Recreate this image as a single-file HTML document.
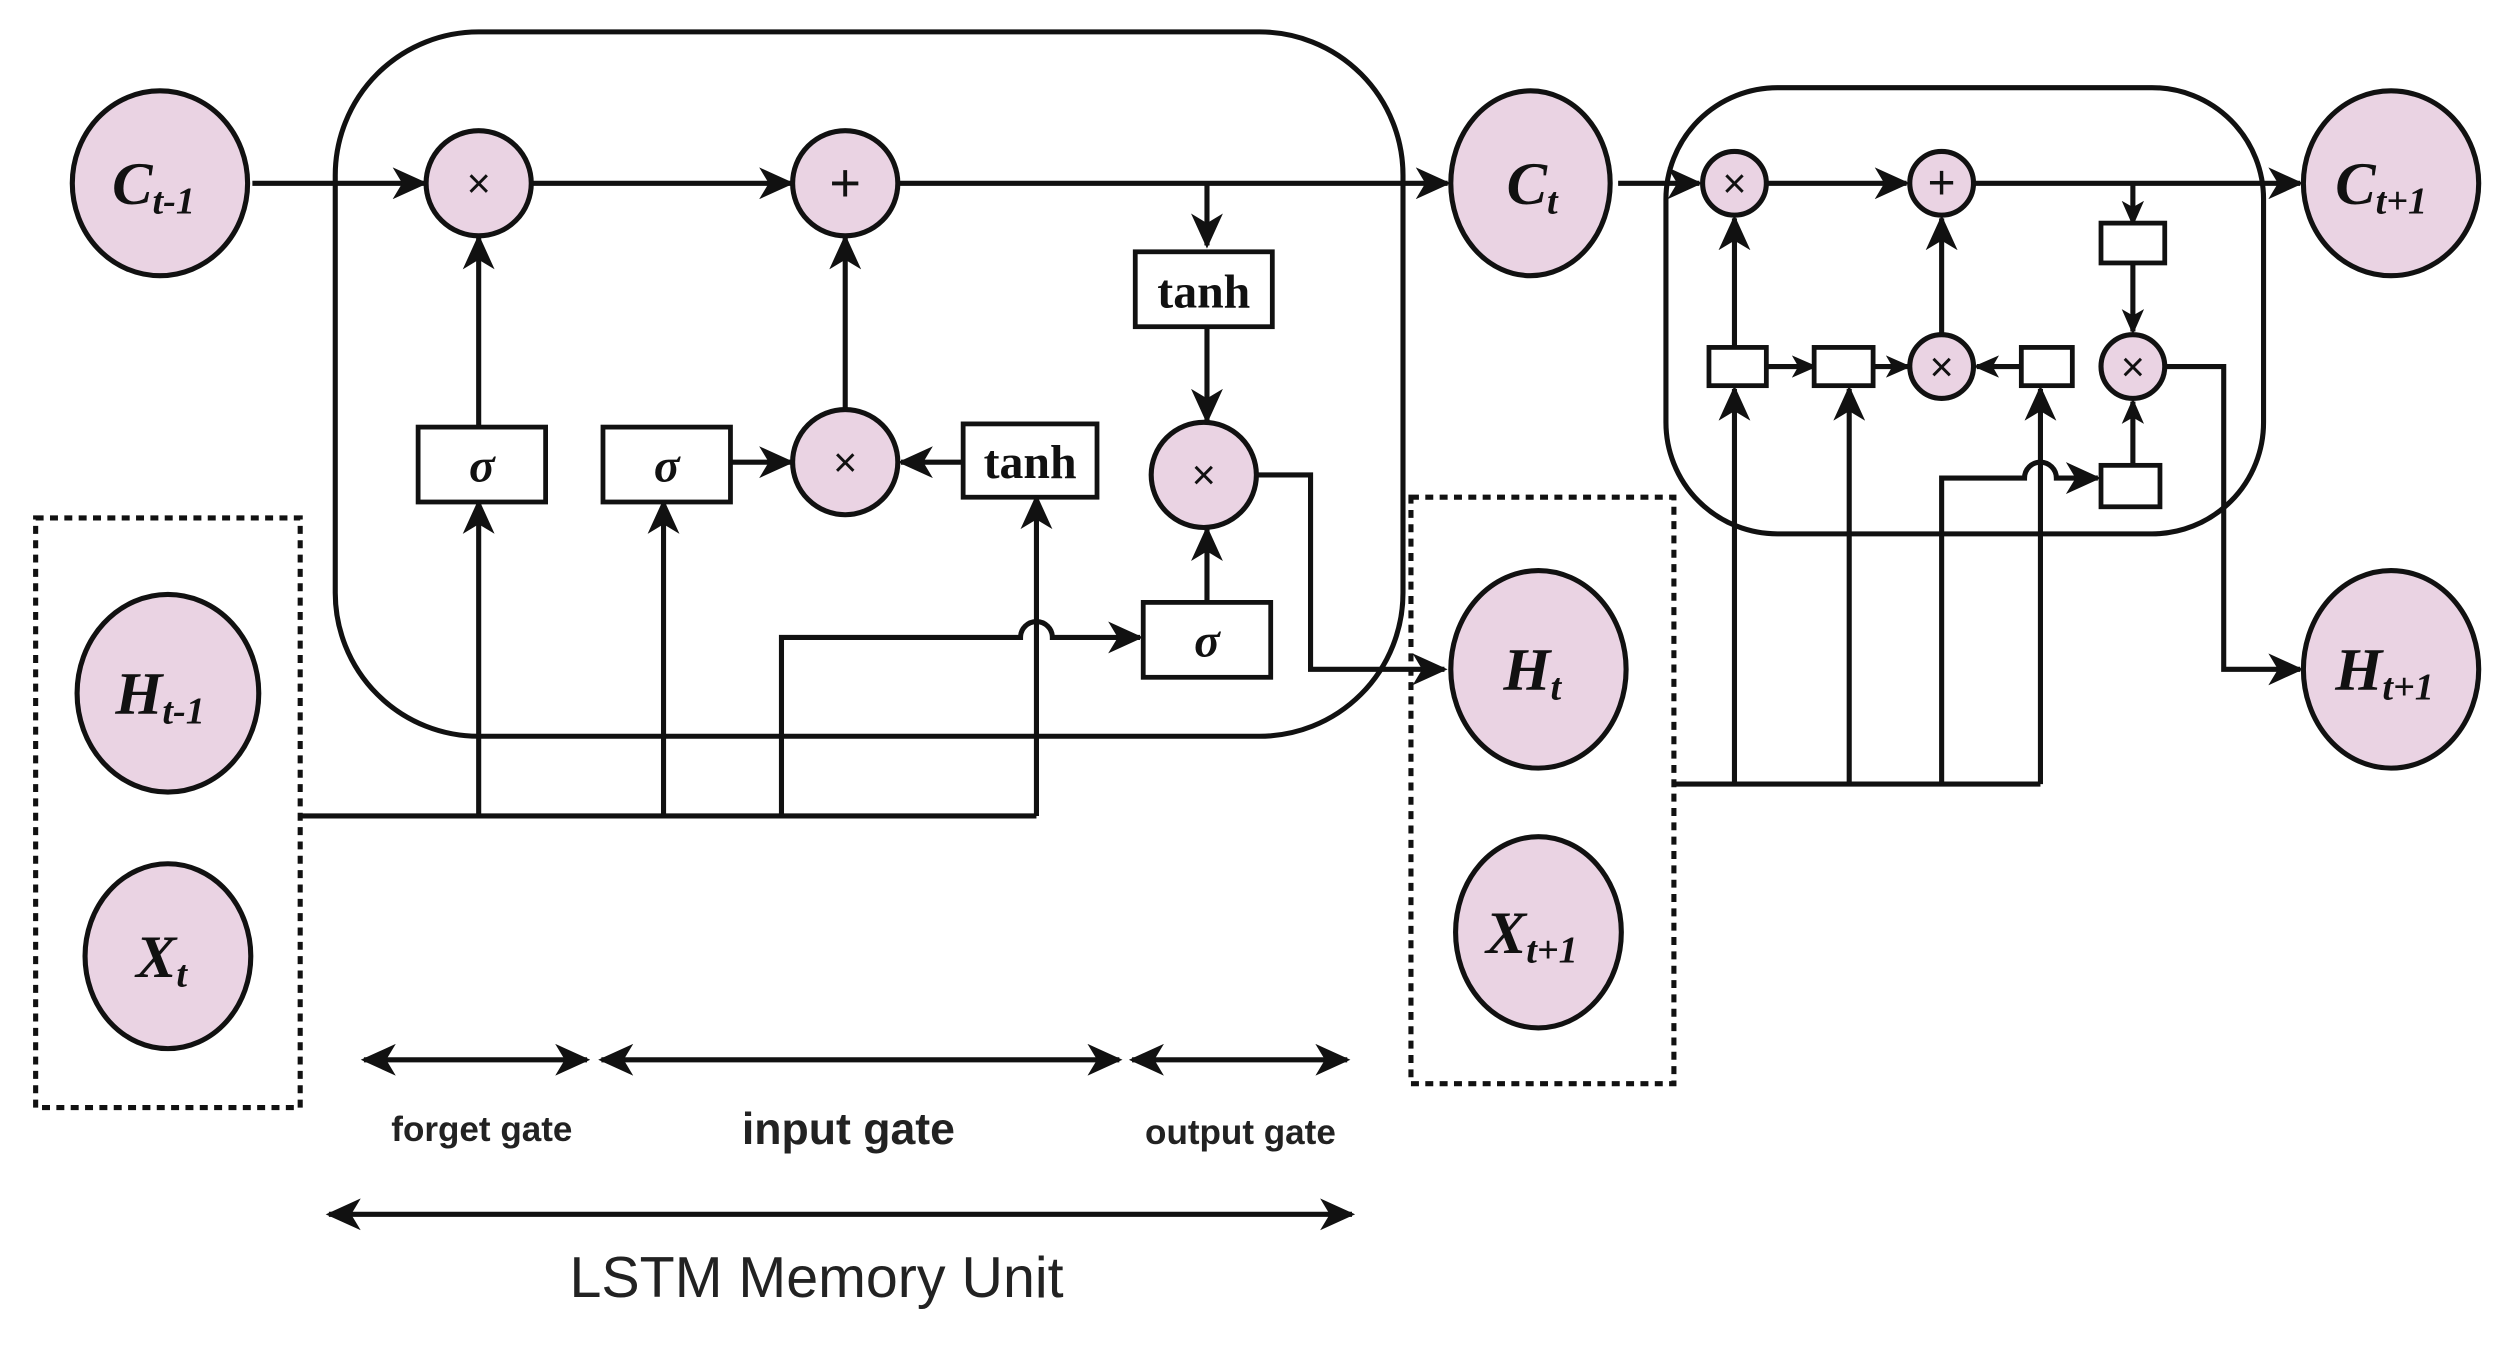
<!DOCTYPE html>
<html><head><meta charset="utf-8"><style>
html,body{margin:0;padding:0;background:#fff;}
svg{display:block;}
.l{stroke:#111;stroke-width:3.2;fill:none;}
.c{fill:#ead3e3;stroke:#111;stroke-width:3.2;}
.b{fill:#fff;stroke:#111;stroke-width:3;}
.v{font-family:"Liberation Serif",serif;font-style:italic;font-weight:bold;fill:#111;}
.t{font-family:"Liberation Serif",serif;font-weight:bold;fill:#111;}
.s{font-family:"Liberation Sans",sans-serif;font-weight:bold;fill:#222;}
</style></head><body>
<svg width="2500" height="1353" viewBox="0 0 1568 849" xmlns="http://www.w3.org/2000/svg">
<defs><marker id="a" markerWidth="8" markerHeight="8" refX="7" refY="4" orient="auto" markerUnits="userSpaceOnUse" viewBox="0 0 8 8"><path d="M0,0 L8,4 L0,8 Z" fill="#111"/></marker>
<marker id="A" markerWidth="22" markerHeight="20" refX="20" refY="10" orient="auto-start-reverse" markerUnits="userSpaceOnUse"><path d="M0,0 L22,10 L0,20 L6,10 Z" fill="#111"/></marker>
<marker id="S" markerWidth="16" markerHeight="14" refX="14" refY="7" orient="auto-start-reverse" markerUnits="userSpaceOnUse"><path d="M0,0 L16,7 L0,14 L4,7 Z" fill="#111"/></marker>
</defs>
<!-- big cell -->
<rect x="210" y="20" width="670" height="442" rx="90" class="l"/>
<rect x="1045" y="55" width="375" height="280" rx="70" class="l"/>
<!-- dashed boxes -->
<rect x="22" y="325" width="166" height="370" class="l" stroke-dasharray="5,4" stroke-width="2.5"/>
<rect x="885" y="312" width="165" height="368" class="l" stroke-dasharray="5,4" stroke-width="2.5"/>
<!-- main lines -->
<path class="l" d="M158,115 H266" marker-end="url(#A)"/>
<path class="l" d="M333,115 H496" marker-end="url(#A)"/>
<path class="l" d="M563,115 H908" marker-end="url(#A)"/>
<path class="l" d="M757,115 V154" marker-end="url(#A)"/>
<path class="l" d="M757,205 V264" marker-end="url(#A)"/>
<path class="l" d="M788,298 H822 V420 H906" marker-end="url(#A)"/>
<path class="l" d="M757,378 V332" marker-end="url(#A)"/>
<path class="l" d="M300,268 V149" marker-end="url(#A)"/>
<path class="l" d="M300,512 V315" marker-end="url(#A)"/>
<path class="l" d="M416,512 V315" marker-end="url(#A)"/>
<path class="l" d="M458,290 H496" marker-end="url(#A)"/>
<path class="l" d="M530,257 V149" marker-end="url(#A)"/>
<path class="l" d="M604,290 H565" marker-end="url(#A)"/>
<path class="l" d="M650,512 V312" marker-end="url(#A)"/>
<path class="l" d="M188,512 H650"/>
<path class="l" d="M490,512 V400 H640 A10,10 0 0 1 660,400 H715" marker-end="url(#A)"/>
<!-- right cell -->
<path class="l" d="M1015,115 H1066" marker-end="url(#A)"/>
<path class="l" d="M1108,115 H1196" marker-end="url(#A)"/>
<path class="l" d="M1238,115 H1443" marker-end="url(#A)"/>
<path class="l" d="M1338,115 V140" marker-end="url(#S)"/>
<path class="l" d="M1338,165 V208" marker-end="url(#S)"/>
<path class="l" d="M1358,230 H1395 V420 H1443" marker-end="url(#A)"/>
<path class="l" d="M1108,230 H1138" marker-end="url(#S)"/>
<path class="l" d="M1175,230 H1197" marker-end="url(#S)"/>
<path class="l" d="M1268,230 H1240" marker-end="url(#S)"/>
<path class="l" d="M1218,210 V137" marker-end="url(#A)"/>
<path class="l" d="M1088,218 V137" marker-end="url(#A)"/>
<path class="l" d="M1050,492 H1280"/>
<path class="l" d="M1088,492 V244" marker-end="url(#A)"/>
<path class="l" d="M1160,492 V244" marker-end="url(#A)"/>
<path class="l" d="M1280,492 V244" marker-end="url(#A)"/>
<path class="l" d="M1218,492 V300 H1270 A10,10 0 0 1 1290,300 H1316" marker-end="url(#A)"/>
<path class="l" d="M1338,292 V252" marker-end="url(#S)"/>
<!-- boxes -->
<rect x="262" y="268" width="80" height="47" class="b"/><text x="302" y="302" class="v" font-size="30" text-anchor="middle">σ</text>
<rect x="378" y="268" width="80" height="47" class="b"/><text x="418" y="302" class="v" font-size="30" text-anchor="middle">σ</text>
<rect x="717" y="378" width="80" height="47" class="b"/><text x="757" y="412" class="v" font-size="30" text-anchor="middle">σ</text>
<rect x="604" y="266" width="84" height="46" class="b"/><text x="646" y="300" class="t" font-size="30" text-anchor="middle">tanh</text>
<rect x="712" y="158" width="86" height="47" class="b"/><text x="755" y="193" class="t" font-size="30" text-anchor="middle">tanh</text>
<rect x="1318" y="140" width="40" height="25" class="b"/>
<rect x="1072" y="218" width="36" height="24" class="b"/>
<rect x="1138" y="218" width="37" height="24" class="b"/>
<rect x="1268" y="218" width="32" height="24" class="b"/>
<rect x="1318" y="292" width="37" height="26" class="b"/>
<!-- op circles -->
<g font-family="Liberation Sans,sans-serif" font-size="26" text-anchor="middle" fill="#111">
<circle cx="300" cy="115" r="33" class="c"/><text x="300" y="124">×</text>
<circle cx="530" cy="115" r="33" class="c"/><text x="530" y="126" font-size="34">+</text>
<circle cx="530" cy="290" r="33" class="c"/><text x="530" y="299">×</text>
<circle cx="755" cy="298" r="33" class="c"/><text x="755" y="307">×</text>
<circle cx="1088" cy="115" r="20" class="c"/><text x="1088" y="124">×</text>
<circle cx="1218" cy="115" r="20" class="c"/><text x="1218" y="125" font-size="30">+</text>
<circle cx="1218" cy="230" r="20" class="c"/><text x="1218" y="239">×</text>
<circle cx="1338" cy="230" r="20" class="c"/><text x="1338" y="239">×</text>
</g>
<!-- variable circles -->
<g>
<ellipse cx="100" cy="115" rx="55" ry="58" class="c"/><text x="70" y="128" class="v" font-size="38">C<tspan font-size="24" dy="6">t-1</tspan></text>
<ellipse cx="960" cy="115" rx="50" ry="58" class="c"/><text x="945" y="128" class="v" font-size="38">C<tspan font-size="24" dy="6">t</tspan></text>
<ellipse cx="1500" cy="115" rx="55" ry="58" class="c"/><text x="1465" y="128" class="v" font-size="38">C<tspan font-size="24" dy="6">t+1</tspan></text>
<ellipse cx="105" cy="435" rx="57" ry="62" class="c"/><text x="72" y="448" class="v" font-size="38">H<tspan font-size="24" dy="6">t-1</tspan></text>
<ellipse cx="105" cy="600" rx="52" ry="58" class="c" stroke="none"/><text x="85" y="613" class="v" font-size="38">X<tspan font-size="24" dy="6">t</tspan></text>
<ellipse cx="965" cy="420" rx="55" ry="62" class="c"/><text x="943" y="433" class="v" font-size="38">H<tspan font-size="24" dy="6">t</tspan></text>
<ellipse cx="965" cy="585" rx="52" ry="60" class="c" stroke="none"/><text x="932" y="598" class="v" font-size="38">X<tspan font-size="24" dy="6">t+1</tspan></text>
<ellipse cx="1500" cy="420" rx="55" ry="62" class="c"/><text x="1465" y="433" class="v" font-size="38">H<tspan font-size="24" dy="6">t+1</tspan></text>
</g>
<!-- bottom -->
<path class="l" d="M228,665 H368" marker-start="url(#A)" marker-end="url(#A)"/>
<path class="l" d="M377,665 H702" marker-start="url(#A)" marker-end="url(#A)"/>
<path class="l" d="M710,665 H845" marker-start="url(#A)" marker-end="url(#A)"/>
<path class="l" d="M206,762 H848" marker-start="url(#A)" marker-end="url(#A)"/>
<text x="302" y="716" class="s" font-size="22" text-anchor="middle">forget gate</text>
<text x="532" y="718" class="s" font-size="28" text-anchor="middle">input gate</text>
<text x="778" y="718" class="s" font-size="22" text-anchor="middle">output gate</text>
<text x="512" y="814" font-family="Liberation Sans,sans-serif" font-size="36" fill="#222" text-anchor="middle">LSTM Memory Unit</text>
</svg>
</body></html>
